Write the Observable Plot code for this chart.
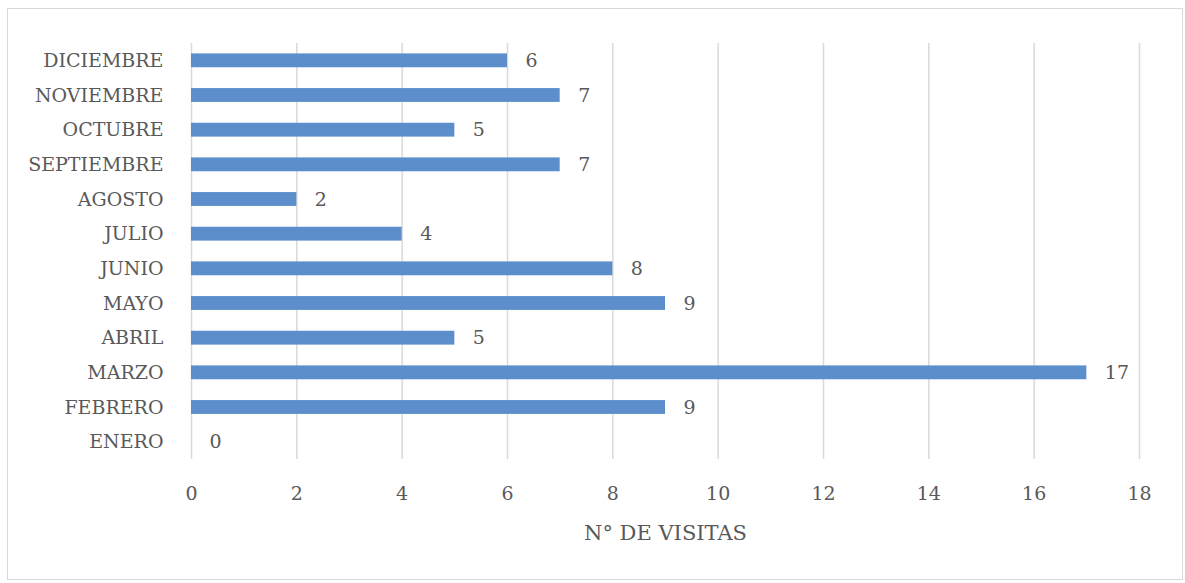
<!DOCTYPE html>
<html>
<head>
<meta charset="utf-8">
<script src="https://cdn.jsdelivr.net/npm/d3@7"></script>
<script src="https://cdn.jsdelivr.net/npm/@observablehq/plot@0.6"></script>
<style>
  html, body { margin: 0; padding: 0; background: #fff; }
  #wrap { position: relative; width: 1185px; height: 583px; }
  #border { position: absolute; left: 7px; top: 8px; width: 1176px; height: 572px; border: 1.5px solid #d9d9d9; box-sizing: border-box; pointer-events: none; }
  #wrap svg, #wrap svg text { font-family: "DejaVu Serif", serif !important; }
</style>
</head>
<body>
<div id="wrap"><div id="border"></div></div>
<script>
const months = ["ENERO","FEBRERO","MARZO","ABRIL","MAYO","JUNIO","JULIO","AGOSTO","SEPTIEMBRE","OCTUBRE","NOVIEMBRE","DICIEMBRE"];
const visits = [0, 9, 17, 5, 9, 8, 4, 2, 7, 5, 7, 6];
const xTicks = [0, 2, 4, 6, 8, 10, 12, 14, 16, 18];
const xLabel = "N° DE VISITAS";

const data = months.map((m, i) => ({month: m, value: visits[i]}));
const textColor = "#595959";
const serif = "DejaVu Serif";
const fs = 19;

const chart = Plot.plot({
  width: 1185,
  height: 583,
  marginLeft: 191,
  marginRight: 46,
  marginTop: 43,
  marginBottom: 124,
  style: {fontFamily: serif, fontSize: fs + "px", color: textColor, background: "transparent"},
  x: {domain: [0, 18]},
  y: {domain: months.slice().reverse(), paddingInner: 0.6, paddingOuter: 0.3, round: false},
  marks: [
    Plot.gridX(xTicks, {stroke: "#d9d9d9", strokeOpacity: 1, strokeWidth: 1.5}),
    Plot.barX(data, {x: "value", y: "month", fill: "#5b8eca"}),
    Plot.text(data, {x: "value", y: "month", text: d => String(d.value), textAnchor: "start", dx: 18, fill: textColor, fontSize: fs, fontFamily: serif}),
    Plot.axisX(xTicks, {tickSize: 0, tickPadding: 27, fontSize: fs, fontFamily: serif, fill: textColor, label: null}),
    Plot.text([xLabel], {frameAnchor: "bottom", lineAnchor: "middle", dy: 74, fontSize: 21, fontFamily: serif, fill: textColor}),
    Plot.axisY({tickSize: 0, tickPadding: 28, fontSize: fs, fontFamily: serif, fill: textColor, label: null})
  ]
});
chart.style.position = "absolute";
chart.style.left = "0";
chart.style.top = "0";
document.getElementById("wrap").appendChild(chart);
</script>
</body>
</html>
